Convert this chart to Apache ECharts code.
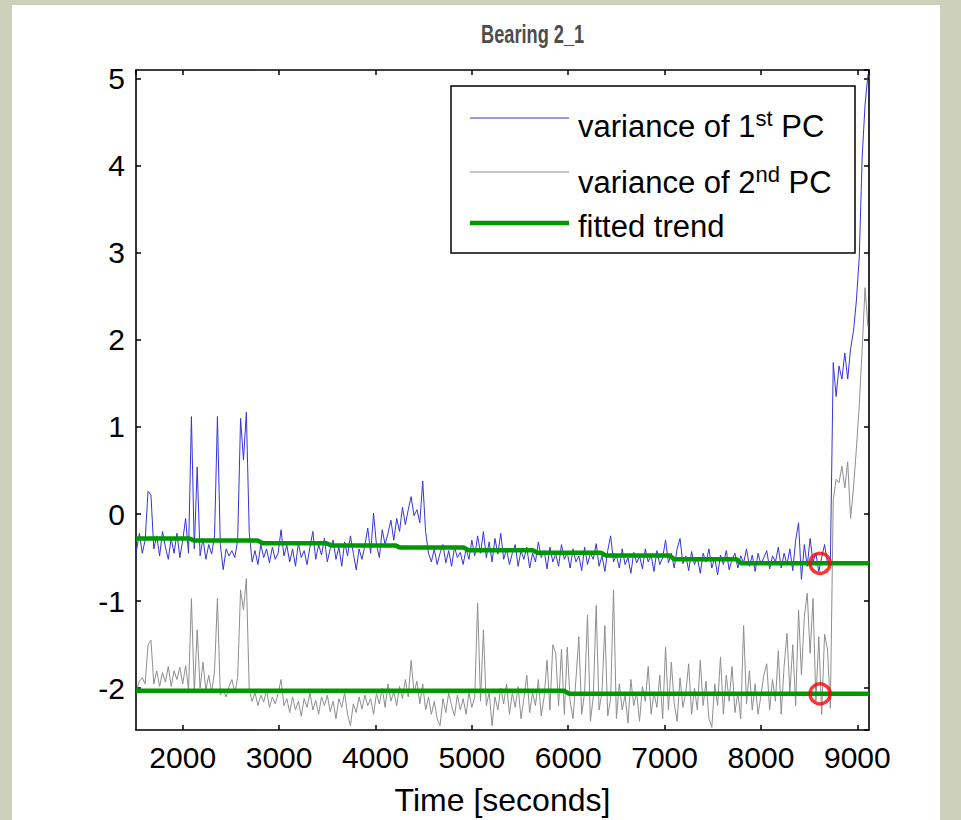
<!DOCTYPE html>
<html><head><meta charset="utf-8">
<script src="https://cdn.jsdelivr.net/npm/echarts@6/dist/echarts.min.js"></script>
<style>html,body{margin:0;padding:0;background:#cdd1bc;}#c{width:961px;height:820px;}</style>
</head><body><div id="c"></div>
<script>
// ---- data ----
const t0 = 1520, dt = 30; // sample grid (seconds)
const pc1 = [
-0.42,-0.22,-0.45,-0.30,0.26,0.22,-0.40,-0.25,-0.48,-0.20,
-0.38,-0.52,-0.28,-0.45,-0.22,-0.50,-0.30,-0.05,-0.45,1.12,
-0.40,0.54,-0.48,-0.28,-0.52,-0.35,-0.46,-0.25,1.12,-0.35,
-0.64,-0.40,-0.48,-0.42,-0.50,-0.30,1.10,0.62,1.17,-0.21,
-0.55,-0.42,-0.58,-0.35,-0.50,-0.40,-0.56,-0.38,-0.52,-0.45,
-0.18,-0.48,-0.36,-0.55,-0.40,-0.60,-0.33,-0.50,-0.42,-0.58,
-0.38,-0.20,-0.52,-0.35,-0.47,-0.28,-0.55,-0.40,-0.30,-0.52,
-0.38,-0.60,-0.32,-0.48,-0.25,-0.45,-0.64,-0.40,-0.52,-0.36,
-0.16,-0.45,0.01,-0.35,-0.50,-0.18,-0.35,-0.22,-0.07,-0.30,
-0.05,-0.20,0.08,-0.12,0.05,0.20,-0.02,0.05,-0.10,0.38,
-0.20,-0.45,-0.55,-0.40,-0.58,-0.45,-0.35,-0.56,-0.42,-0.60,
-0.38,-0.50,-0.44,-0.58,-0.40,-0.52,-0.30,-0.48,-0.25,-0.45,
-0.20,-0.50,-0.32,-0.55,-0.28,-0.46,-0.22,-0.52,-0.40,-0.58,
-0.45,-0.35,-0.60,-0.42,-0.52,-0.38,-0.62,-0.45,-0.55,-0.32,
-0.50,-0.42,-0.63,-0.38,-0.55,-0.46,-0.60,-0.35,-0.52,-0.44,
-0.62,-0.40,-0.55,-0.48,-0.65,-0.38,-0.58,-0.45,-0.52,-0.34,
-0.60,-0.48,-0.66,-0.42,-0.25,-0.55,-0.47,-0.62,-0.40,-0.58,
-0.50,-0.68,-0.44,-0.56,-0.48,-0.63,-0.40,-0.55,-0.47,-0.66,
-0.42,-0.58,-0.50,-0.30,-0.56,-0.45,-0.62,-0.40,-0.28,-0.57,
-0.48,-0.65,-0.43,-0.58,-0.50,-0.68,-0.45,-0.55,-0.40,-0.62,
-0.50,-0.70,-0.47,-0.58,-0.42,-0.64,-0.52,-0.45,-0.62,-0.48,
-0.56,-0.40,-0.60,-0.47,-0.66,-0.45,-0.58,-0.50,-0.42,-0.63,
-0.48,-0.55,-0.38,-0.62,-0.45,-0.58,-0.40,-0.65,-0.30,-0.10,
-0.75,-0.35,-0.60,-0.28,-0.55,-0.45,-0.66,-0.50,-0.35,-0.56,
-0.57,1.74,1.35,1.70,1.55,1.85,1.55,1.90,2.10,2.45,
2.95,4.10,4.70,5.05
];
const pc2 = [
-2.02,-1.92,-1.88,-1.95,-1.50,-1.45,-1.95,-1.80,-1.98,-1.82,
-1.93,-1.75,-1.98,-1.80,-1.90,-1.76,-1.95,-1.74,-2.02,-0.97,
-2.05,-1.33,-2.00,-1.70,-2.02,-1.85,-2.05,-1.80,-0.97,-2.08,
-2.02,-2.10,-1.98,-1.90,-2.05,-1.88,-0.87,-1.10,-0.74,-2.02,
-2.15,-2.05,-2.20,-2.08,-2.16,-2.02,-2.22,-2.10,-2.18,-2.06,
-1.90,-2.20,-2.12,-2.28,-2.10,-2.25,-2.15,-2.32,-2.12,-2.22,
-2.05,-2.25,-2.14,-2.30,-2.10,-2.20,-2.08,-2.27,-2.15,-2.35,
-2.12,-2.22,-2.05,-2.30,-2.43,-2.18,-2.28,-2.10,-2.24,-2.08,
-2.20,-2.12,-2.30,-2.06,-2.18,-2.00,-2.22,-1.95,-2.15,-2.04,
-2.20,-1.98,-2.12,-1.90,-2.10,-1.68,-2.05,-1.92,-2.18,-1.95,
-2.25,-2.10,-2.30,-2.15,-2.35,-2.43,-2.12,-2.28,-2.05,-2.20,
-2.32,-2.08,-2.25,-2.12,-2.30,-2.05,-2.22,-2.10,-1.02,-2.15,
-1.33,-2.20,-2.05,-2.43,-2.10,-2.25,-2.00,-2.18,-1.95,-2.30,
-2.05,-2.22,-1.98,-2.35,-2.12,-1.85,-2.28,-2.05,-2.20,-1.90,
-2.32,-2.10,-1.68,-2.25,-1.50,-1.60,-2.20,-1.55,-2.30,-1.53,
-2.15,-2.35,-1.90,-1.41,-2.30,-2.05,-1.16,-2.38,-2.10,-1.05,
-2.25,-2.05,-1.28,-2.32,-2.12,-0.87,-2.35,-1.95,-2.25,-2.08,
-2.40,-1.90,-2.20,-2.05,-2.38,-1.98,-2.15,-1.75,-2.30,-2.05,
-2.22,-1.85,-2.35,-1.53,-2.25,-1.70,-2.18,-2.38,-1.88,-2.22,
-2.05,-1.72,-2.30,-2.00,-2.25,-1.68,-2.20,-1.92,-2.35,-2.45,
-1.95,-2.20,-1.64,-2.30,-1.85,-2.15,-1.75,-2.28,-2.05,-2.35,
-1.28,-2.18,-1.80,-2.25,-1.95,-2.30,-2.08,-1.85,-1.72,-2.25,
-1.90,-2.15,-1.57,-2.30,-1.75,-1.37,-2.05,-1.50,-2.20,-1.10,
-1.85,-1.18,-0.91,-1.60,-0.97,-2.15,-1.41,-2.30,-1.38,-1.55,
-2.23,0.16,0.40,0.36,0.55,0.30,0.60,-0.05,0.30,0.75,
1.25,1.90,2.60,2.15
];
const trend1X = [1515,2070,2120,2780,2830,3490,3540,4205,4255,4915,4965,5630,5680,6340,6390,7050,7100,7745,7795,9121];
const trend1Y = [-0.28,-0.28,-0.305,-0.305,-0.335,-0.335,-0.36,-0.36,-0.385,-0.385,-0.415,-0.415,-0.445,-0.445,-0.475,-0.475,-0.52,-0.52,-0.565,-0.565];
const trend2X = [1515,5960,6010,9121];
const trend2Y = [-2.03,-2.03,-2.065,-2.065];
const markT = [8613, 8613];
const markV = [-0.565, -2.065];
const xTicks = [2000,3000,4000,5000,6000,7000,8000,9000];
const yTicks = [-2,-1,0,1,2,3,4,5];
const names = ['variance of 1st PC','variance of 2nd PC','fitted trend'];

// ---- build ----
const times = pc1.map((_, i) => t0 + dt * i);
const s1 = times.map((t, i) => [t, pc1[i]]);
const s2 = times.map((t, i) => [t, pc2[i]]);
const tr1 = trend1X.map((t, i) => [t, trend1Y[i]]);
const tr2 = trend2X.map((t, i) => [t, trend2Y[i]]);
const marks = markT.map((t, i) => [t, markV[i]]);

const FONT = "'Liberation Sans', Arial, sans-serif";
const BLUE = '#3434dc', GRAY = '#8e8e8e', GREEN = '#009800', RED = '#ff0000';
const chart = echarts.init(document.getElementById('c'), null, {renderer: 'svg'});
const axisCommon = {
  type: 'value', min: 1515, max: 9121, splitNumber: 8,
  axisLine: {show: true, onZero: false, lineStyle: {color: '#000', width: 1.6}},
  axisTick: {show: true, inside: true, length: 5, lineStyle: {color: '#000', width: 1.5}},
  splitLine: {show: false}
};
const yCommon = {
  type: 'value', min: -2.48, max: 5.1, splitNumber: 7,
  axisLine: {show: true, onZero: false, lineStyle: {color: '#000', width: 1.6}},
  axisTick: {show: true, inside: true, length: 5, lineStyle: {color: '#000', width: 1.5}},
  splitLine: {show: false}
};
const legendRows = [
  {y: 118, color: BLUE, w: 1, text: 'variance of 1{sup|st} PC', ty: 126},
  {y: 172, color: GRAY, w: 1, text: 'variance of 2{sup|nd} PC', ty: 182},
  {y: 223, color: GREEN, w: 4.5, text: 'fitted trend', ty: 226}
];
const legendGraphics = [{
  type: 'rect', shape: {x: 451, y: 86, width: 404, height: 167},
  style: {fill: '#fff', stroke: '#000', lineWidth: 1.5}, z: 100
}];
legendRows.forEach(r => {
  legendGraphics.push({type: 'line', shape: {x1: 470, y1: r.y, x2: 569, y2: r.y},
    style: {stroke: r.color, lineWidth: r.w}, z: 101});
  legendGraphics.push({type: 'text', x: 578, y: r.ty, z: 101,
    style: {text: r.text, font: '31px ' + FONT, fill: '#000', verticalAlign: 'middle',
      rich: {sup: {fontSize: 22, fontFamily: FONT, verticalAlign: 'top', padding: [0,0,16,0]}}}});
});

chart.setOption({
  animation: false,
  backgroundColor: '#cdd1bc',
  textStyle: {fontFamily: FONT},
  graphic: [
    {type: 'rect', shape: {x: 12, y: 5, width: 928, height: 815}, style: {fill: '#fff'}, z: -10, silent: true},
    {type: 'text', x: 481, y: 21, scaleX: 0.70, z: 5,
      style: {text: 'Bearing 2_1', font: "bold 26px 'Liberation Sans', Arial, sans-serif", fill: '#4d4d4d'}}
  ].concat(legendGraphics),
  grid: {left: 136, top: 70, right: 92, bottom: 90, containLabel: false, outerBoundsMode: 'none'},
  xAxis: [
    Object.assign({}, axisCommon, {position: 'bottom',
      axisLabel: {show: true, fontSize: 30, color: '#000', margin: 12, showMinLabel: false, showMaxLabel: false,
        formatter: v => xTicks.indexOf(v) >= 0 ? String(v) : ''},
      name: 'Time [seconds]', nameLocation: 'middle', nameGap: 54,
      nameTextStyle: {fontSize: 32, color: '#000'}}),
    Object.assign({}, axisCommon, {position: 'top', axisLabel: {show: false}})
  ],
  yAxis: [
    Object.assign({}, yCommon, {position: 'left',
      axisLabel: {show: true, fontSize: 30, color: '#000', margin: 11, showMinLabel: false, showMaxLabel: false,
        formatter: v => yTicks.indexOf(v) >= 0 ? String(v) : ''}}),
    Object.assign({}, yCommon, {position: 'right', axisLabel: {show: false}})
  ],
  series: [
    {name: names[0], type: 'line', data: s1, showSymbol: false, symbol: 'none', lineStyle: {color: BLUE, width: 1}, z: 2},
    {name: names[1], type: 'line', data: s2, showSymbol: false, symbol: 'none', lineStyle: {color: GRAY, width: 1}, z: 2},
    {name: names[2], type: 'line', data: tr1, showSymbol: false, symbol: 'none', lineStyle: {color: GREEN, width: 4.5}, z: 3},
    {name: names[2], type: 'line', data: tr2, showSymbol: false, symbol: 'none', lineStyle: {color: GREEN, width: 4.5}, z: 3},
    {name: 'onset', type: 'scatter', data: marks, symbol: 'circle', symbolSize: 20,
      itemStyle: {color: 'rgba(0,0,0,0)', borderColor: RED, borderWidth: 3.5}, z: 4}
  ]
});
</script></body></html>
